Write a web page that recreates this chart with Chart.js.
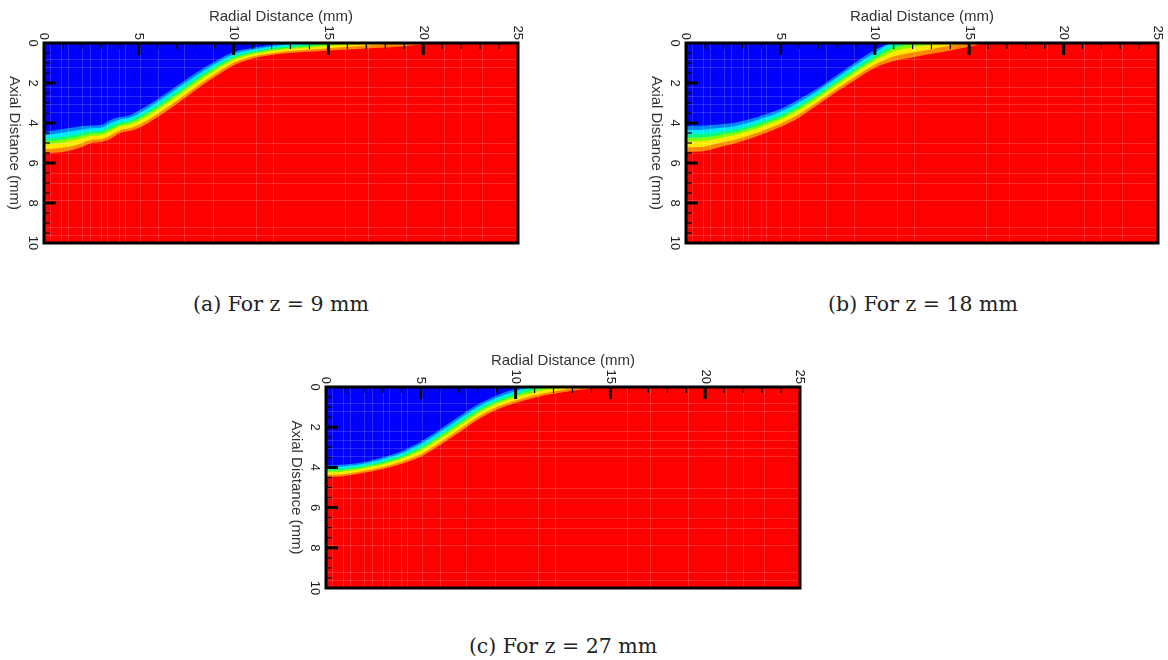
<!DOCTYPE html>
<html>
<head>
<meta charset="utf-8">
<script src="https://cdn.jsdelivr.net/npm/chart.js@4.4.1/dist/chart.umd.min.js"></script>
<style>
  html, body { margin: 0; padding: 0; background: #fff; width: 1168px; height: 660px; overflow: hidden; }
  body { position: relative; }
  canvas { position: absolute; }
  .cap { position: absolute; font-family: "DejaVu Serif", serif; font-size: 20.5px; color: #222;
         white-space: nowrap; transform: translate(-50%, -50%); }
</style>
</head>
<body>
<canvas id="plotA"></canvas>
<canvas id="plotB"></canvas>
<canvas id="plotC"></canvas>
<div class="cap" style="left:281px; top:304px;">(a) For z = 9 mm</div>
<div class="cap" style="left:923px; top:304px;">(b) For z = 18 mm</div>
<div class="cap" style="left:563px; top:646px;">(c) For z = 27 mm</div>
<script>
// Radial stations (mm) at which each contour level's axial depth (mm) is given
const radial = [0, 1, 2, 2.5, 3, 3.5, 4, 4.5, 5, 6, 7, 8, 9, 10, 11, 12, 13, 14, 15, 16, 17, 18, 19, 20, 21, 22, 25];

// Axis tick labels
const radialTicks = [0, 5, 10, 15, 20, 25];
const axialTicks = [0, 2, 4, 6, 8, 10];

// Contour level colours, from the lowest level (blue) upward; the field beyond the last level is red
const levelColors = ['#0000ff', '#0084ff', '#00e8ff', '#00ff80', '#80ff00', '#ffe800', '#ff8800'];
const fieldMaxColor = '#ff0000';

// z = 9 mm : depth of each contour level
const z9_level1 = [4.45, 4.30, 4.15, 4.12, 4.10, 3.85, 3.70, 3.62, 3.38, 2.80, 2.15, 1.50, 0.93, 0.45, 0.25, 0.10, 0, 0, 0, 0, 0, 0, 0, 0, 0, 0, 0];
const z9_level2 = [4.62, 4.48, 4.32, 4.26, 4.24, 4.00, 3.83, 3.74, 3.52, 2.94, 2.29, 1.64, 1.05, 0.56, 0.33, 0.18, 0.05, 0, 0, 0, 0, 0, 0, 0, 0, 0, 0];
const z9_level3 = [4.79, 4.67, 4.49, 4.40, 4.37, 4.15, 3.96, 3.87, 3.66, 3.09, 2.44, 1.77, 1.18, 0.66, 0.42, 0.26, 0.14, 0.07, 0, 0, 0, 0, 0, 0, 0, 0, 0];
const z9_level4 = [4.93, 4.83, 4.63, 4.52, 4.49, 4.29, 4.07, 3.98, 3.78, 3.21, 2.56, 1.89, 1.28, 0.76, 0.49, 0.33, 0.22, 0.15, 0.08, 0, 0, 0, 0, 0, 0, 0, 0];
const z9_level5 = [5.08, 4.99, 4.78, 4.65, 4.61, 4.42, 4.18, 4.09, 3.90, 3.34, 2.69, 2.01, 1.39, 0.85, 0.57, 0.40, 0.29, 0.22, 0.15, 0.08, 0, 0, 0, 0, 0, 0, 0];
const z9_level6 = [5.31, 5.24, 5.01, 4.84, 4.80, 4.63, 4.36, 4.26, 4.09, 3.54, 2.89, 2.20, 1.56, 0.99, 0.68, 0.51, 0.40, 0.33, 0.26, 0.20, 0.13, 0.06, 0, 0, 0, 0, 0];
const z9_level7 = [5.50, 5.45, 5.20, 5.00, 4.95, 4.80, 4.50, 4.40, 4.25, 3.70, 3.05, 2.35, 1.70, 1.12, 0.78, 0.60, 0.50, 0.44, 0.37, 0.32, 0.27, 0.22, 0.16, 0.08, 0, 0, 0];

// z = 18 mm
const z18_level1 = [4.15, 4.12, 4.05, 4.00, 3.90, 3.78, 3.62, 3.47, 3.30, 2.80, 2.25, 1.60, 0.95, 0.35, 0, 0, 0, 0, 0, 0, 0, 0, 0, 0, 0, 0, 0];
const z18_level2 = [4.36, 4.32, 4.23, 4.17, 4.06, 3.94, 3.77, 3.62, 3.44, 2.95, 2.38, 1.73, 1.09, 0.49, 0, 0, 0, 0, 0, 0, 0, 0, 0, 0, 0, 0, 0];
const z18_level3 = [4.57, 4.53, 4.40, 4.34, 4.22, 4.09, 3.93, 3.77, 3.59, 3.09, 2.52, 1.87, 1.23, 0.64, 0.10, 0, 0, 0, 0, 0, 0, 0, 0, 0, 0, 0, 0];
const z18_level4 = [4.75, 4.71, 4.56, 4.48, 4.36, 4.23, 4.06, 3.90, 3.71, 3.22, 2.63, 1.98, 1.35, 0.76, 0.25, 0.06, 0, 0, 0, 0, 0, 0, 0, 0, 0, 0, 0];
const z18_level5 = [4.93, 4.89, 4.71, 4.63, 4.50, 4.36, 4.20, 4.03, 3.84, 3.35, 2.75, 2.10, 1.47, 0.89, 0.42, 0.23, 0.09, 0, 0, 0, 0, 0, 0, 0, 0, 0, 0];
const z18_level6 = [5.22, 5.17, 4.95, 4.86, 4.72, 4.58, 4.41, 4.23, 4.04, 3.55, 2.93, 2.28, 1.66, 1.09, 0.68, 0.48, 0.31, 0.12, 0, 0, 0, 0, 0, 0, 0, 0, 0];
const z18_level7 = [5.45, 5.40, 5.15, 5.05, 4.90, 4.75, 4.58, 4.40, 4.20, 3.72, 3.08, 2.43, 1.82, 1.25, 0.90, 0.72, 0.54, 0.37, 0.19, 0, 0, 0, 0, 0, 0, 0, 0];

// z = 27 mm
const z27_level1 = [3.90, 3.85, 3.73, 3.62, 3.50, 3.36, 3.20, 2.96, 2.72, 2.12, 1.47, 0.87, 0.42, 0.10, 0, 0, 0, 0, 0, 0, 0, 0, 0, 0, 0, 0, 0];
const z27_level2 = [3.99, 3.94, 3.82, 3.71, 3.59, 3.46, 3.30, 3.07, 2.84, 2.24, 1.60, 0.99, 0.53, 0.21, 0, 0, 0, 0, 0, 0, 0, 0, 0, 0, 0, 0, 0];
const z27_level3 = [4.09, 4.04, 3.90, 3.80, 3.69, 3.55, 3.40, 3.18, 2.96, 2.37, 1.73, 1.11, 0.65, 0.32, 0.03, 0, 0, 0, 0, 0, 0, 0, 0, 0, 0, 0, 0];
const z27_level4 = [4.17, 4.12, 3.98, 3.88, 3.77, 3.64, 3.49, 3.28, 3.07, 2.48, 1.84, 1.22, 0.75, 0.42, 0.15, 0, 0, 0, 0, 0, 0, 0, 0, 0, 0, 0, 0];
const z27_level5 = [4.25, 4.20, 4.05, 3.96, 3.85, 3.72, 3.57, 3.38, 3.17, 2.59, 1.96, 1.33, 0.85, 0.52, 0.27, 0.09, 0, 0, 0, 0, 0, 0, 0, 0, 0, 0, 0];
const z27_level6 = [4.38, 4.33, 4.17, 4.08, 3.98, 3.85, 3.71, 3.53, 3.34, 2.76, 2.13, 1.49, 1.00, 0.67, 0.41, 0.22, 0.08, 0, 0, 0, 0, 0, 0, 0, 0, 0, 0];
const z27_level7 = [4.48, 4.43, 4.27, 4.18, 4.08, 3.96, 3.82, 3.66, 3.47, 2.90, 2.28, 1.63, 1.13, 0.80, 0.53, 0.34, 0.19, 0.07, 0, 0, 0, 0, 0, 0, 0, 0, 0];

// Computational mesh lines that show through the shaded field
const meshRadial = [0.3, 0.9, 1.25, 2.0, 2.4, 3.0, 3.3, 3.95, 4.25, 5.05, 6.0, 7.4, 8.9, 11.2, 12.1, 15.9, 17.1, 19.1, 21.1, 22.0, 23.1];
const meshAxial = [0.8, 1.2, 2.2, 2.65, 3.05, 3.45, 5.0, 5.5, 6.5, 7.0, 7.85, 9.2, 9.6];

const SANS = '"Liberation Sans", Arial, sans-serif';

function drawRotated(ctx, text, x, y, align) {
  ctx.save();
  ctx.translate(x, y);
  ctx.rotate(Math.PI / 2);
  ctx.textAlign = align;
  ctx.textBaseline = 'middle';
  ctx.fillText(text, 0, 0);
  ctx.restore();
}

const contourFrame = {
  id: 'contourFrame',
  beforeDraw(chart) {
    const { ctx, chartArea: a } = chart;
    ctx.save();
    ctx.fillStyle = fieldMaxColor;
    ctx.fillRect(a.left, a.top, a.right - a.left, a.bottom - a.top);
    ctx.restore();
  },
  afterDatasetsDraw(chart) {
    const { ctx, chartArea: a } = chart;
    const xs = chart.scales.x, ys = chart.scales.y;
    ctx.save();

    // mesh lines
    ctx.strokeStyle = 'rgba(255,255,255,0.17)';
    ctx.lineWidth = 1;
    meshRadial.forEach(r => {
      const px = Math.round(xs.getPixelForValue(r)) + 0.5;
      ctx.beginPath(); ctx.moveTo(px, a.top); ctx.lineTo(px, a.bottom); ctx.stroke();
    });
    meshAxial.forEach(z => {
      const py = Math.round(ys.getPixelForValue(z)) + 0.5;
      ctx.beginPath(); ctx.moveTo(a.left, py); ctx.lineTo(a.right, py); ctx.stroke();
    });

    // tick marks, drawn inward from the top and left edges
    ctx.strokeStyle = '#000';
    for (let r = 1; r < 25; r += 1) {
      const major = r % 5 === 0;
      const px = xs.getPixelForValue(r);
      ctx.lineWidth = major ? 3 : 1.2;
      ctx.beginPath(); ctx.moveTo(px, a.top); ctx.lineTo(px, a.top + (major ? 12 : 6)); ctx.stroke();
    }
    for (let z = 0.5; z < 10; z += 0.5) {
      const major = Math.abs(z % 2) < 1e-9;
      const py = ys.getPixelForValue(z);
      ctx.lineWidth = major ? 3 : 1.2;
      ctx.beginPath(); ctx.moveTo(a.left, py); ctx.lineTo(a.left + (major ? 12 : 6), py); ctx.stroke();
    }

    // frame
    ctx.lineWidth = 3;
    ctx.strokeRect(a.left, a.top, a.right - a.left, a.bottom - a.top);

    // tick labels
    ctx.fillStyle = '#222';
    ctx.font = '13px ' + SANS;
    radialTicks.forEach(r => drawRotated(ctx, String(r), xs.getPixelForValue(r), a.top - 3, 'right'));
    axialTicks.forEach(z => drawRotated(ctx, String(z), a.left - 11, ys.getPixelForValue(z), 'center'));

    // axis titles
    ctx.fillStyle = '#333';
    ctx.font = '15px ' + SANS;
    ctx.textAlign = 'center';
    ctx.textBaseline = 'middle';
    ctx.fillText('Radial Distance (mm)', (a.left + a.right) / 2, a.top - 26);
    drawRotated(ctx, 'Axial Distance (mm)', a.left - 30, (a.top + a.bottom) / 2, 'center');

    ctx.restore();
  }
};

function buildContour(canvasId, area, levels) {
  const padL = 60, padT = 50, padR = 20, padB = 20;
  const canvas = document.getElementById(canvasId);
  canvas.width = area.r - area.l + padL + padR;
  canvas.height = area.b - area.t + padT + padB;
  canvas.style.left = (area.l - padL) + 'px';
  canvas.style.top = (area.t - padT) + 'px';

  const datasets = levels.map((depths, i) => ({
    data: radial.map((r, k) => ({ x: r, y: depths[k] })),
    backgroundColor: levelColors[i],
    borderWidth: 0,
    pointRadius: 0,
    fill: { value: 0 },
    cubicInterpolationMode: 'monotone'
  }));

  return new Chart(canvas, {
    type: 'line',
    data: { datasets },
    options: {
      responsive: false,
      animation: false,
      devicePixelRatio: 1,
      layout: { padding: { left: padL, top: padT, right: padR, bottom: padB } },
      plugins: { legend: { display: false }, tooltip: { enabled: false }, title: { display: false } },
      scales: {
        x: { type: 'linear', min: 0, max: 25, display: false },
        y: { type: 'linear', min: 0, max: 10, reverse: true, display: false }
      }
    },
    plugins: [contourFrame]
  });
}

buildContour('plotA', { l: 44, t: 43, r: 518, b: 243 },
  [z9_level1, z9_level2, z9_level3, z9_level4, z9_level5, z9_level6, z9_level7]);
buildContour('plotB', { l: 686, t: 43, r: 1158, b: 243 },
  [z18_level1, z18_level2, z18_level3, z18_level4, z18_level5, z18_level6, z18_level7]);
buildContour('plotC', { l: 326, t: 387, r: 800, b: 588 },
  [z27_level1, z27_level2, z27_level3, z27_level4, z27_level5, z27_level6, z27_level7]);
</script>
</body>
</html>
